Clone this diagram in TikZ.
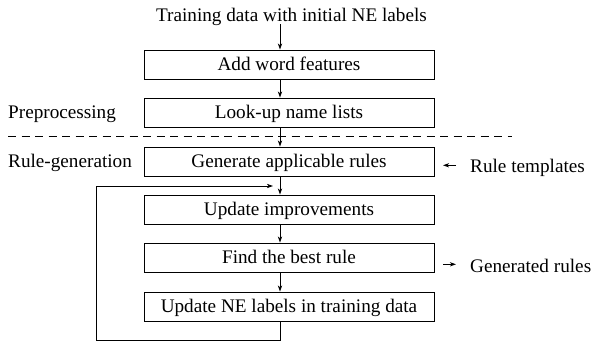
\documentclass[tikz,border=0pt]{standalone}
\usepackage{fontspec}
\setmainfont{Liberation Serif}
\usetikzlibrary{arrows.meta}
\begin{document}
\begin{tikzpicture}[x=1pt,y=-1pt,
  font=\fontsize{19.2}{22}\selectfont,
  every node/.style={inner sep=0pt},
  stepbox/.style={draw, line width=0.9pt, minimum width=290pt, minimum height=29pt,
                  text height=13pt, text depth=2pt},
  arr/.style={line width=0.9pt, -{Stealth[length=6pt,width=4.2pt,inset=1.6pt]}},
  lbl/.style={anchor=base west}]
\useasboundingbox (0,0) rectangle (595,343);

% x position of the main flow arrows
\coordinate (ax) at (280,0);

\node[anchor=base] (title) at (291.5,21) {Training data with initial NE labels};

\node[stepbox] (b1) at (289,64.5)  {Add word features};
\node[stepbox] (b2) at (289,112.5) {Look-up name lists};
\node[stepbox] (b3) at (289,161.5) {Generate applicable rules};
\node[stepbox] (b4) at (289,209.5) {Update improvements};
\node[stepbox] (b5) at (289,257.5) {Find the best rule};
\node[stepbox] (b6) at (289,306.5) {Update NE labels in training data};

% phase labels and the dashed separator
\node[lbl] (pre) at (8,118.5) {Preprocessing};
\node[lbl] (gen) at (8,167)   {Rule-generation};
\coordinate (dl) at (8,136);
\coordinate (dr) at (512,136);
\draw[line width=0.9pt, dash pattern=on 8pt off 5.5pt] (dl) -- (dr);

% main flow
\draw[arr] ([yshift=-3pt]title.base -| ax) -- (b1.north -| ax);
\draw[arr] (b1.south -| ax) -- (b2.north -| ax);
\draw[arr] (b2.south -| ax) -- (b3.north -| ax);
\draw[arr] (b3.south -| ax) -- (b4.north -| ax);
\draw[arr] (b4.south -| ax) -- (b5.north -| ax);
\draw[arr] (b5.south -| ax) -- (b6.north -| ax);

% loop back
\coordinate (lp) at (96,340);
\coordinate (back) at (273,186);
\draw[arr] (b6.south -| ax) |- (lp) |- (back);

% side inputs and outputs
\node[lbl] (rt) at (470,172) {Rule templates};
\node[lbl] (gr) at (470,272.3) {Generated rules};
\draw[arr] ([shift={(-14pt,6.7pt)}]rt.base west) -- ([shift={(-27pt,6.7pt)}]rt.base west);
\draw[arr] ([shift={(-27pt,8pt)}]gr.base west) -- ([shift={(-14pt,8pt)}]gr.base west);
\end{tikzpicture}
\end{document}
